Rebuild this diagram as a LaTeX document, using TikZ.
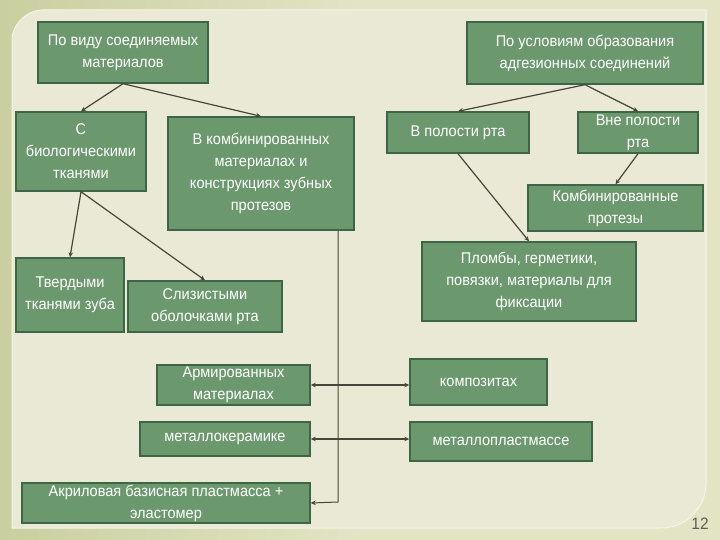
\documentclass[tikz,border=0pt]{standalone}
\usepackage{fontspec}
\setmainfont{Liberation Sans}[FakeStretch=0.94]
\usetikzlibrary{arrows.meta,calc}
\definecolor{bgout}{HTML}{E2E4C4}
\definecolor{bgleft}{HTML}{CACF9F}
\definecolor{panelc}{HTML}{E9E9D5}
\definecolor{panelrim}{HTML}{F5F5E8}
\definecolor{boxfill}{HTML}{6B996D}
\definecolor{boxline}{HTML}{3E6646}
\definecolor{linec}{HTML}{45473A}
\definecolor{numc}{HTML}{5E5F52}
\begin{document}
\begin{tikzpicture}[x=1pt,y=-1pt,
  box/.style={draw=boxline, fill=boxfill, line width=1.4pt, text=white, align=center,
    inner sep=1pt, font=\fontsize{15.5}{22}\selectfont},
  conn/.style={draw=linec, line width=1.2pt, -{Stealth[length=5pt,width=4.5pt]}},
  thinconn/.style={draw=linec, line width=1pt, -{Stealth[length=5pt,width=4.5pt]}},
  dbl/.style={draw=linec, line width=1.2pt, {Stealth[length=5pt,width=4.5pt]}-{Stealth[length=5pt,width=4.5pt]}}]
\useasboundingbox (0,0) rectangle (720,540);
\shade[left color=bgleft, right color=bgout, middle color=bgout] (0,0) rectangle (720,540);
\fill[panelc, draw=panelrim, line width=1pt] (12,528) -- (12,40) .. controls (12,23.4) and (28.6,10) .. (42,10)
  -- (706,10) -- (706,483) .. controls (706,507.9) and (685.9,528) .. (661,528) -- cycle;

% left tree
\node[box, minimum width=170pt, minimum height=61pt] (b1) at (123,52.5) {По виду соединяемых\\материалов};
\node[box, minimum width=130pt, minimum height=79pt] (b2) at (81,151.5) {С\\биологическими\\тканями};
\node[box, minimum width=186pt, minimum height=113pt] (b3) at (261,173.5) {В комбинированных\\материалах и\\конструкциях зубных\\протезов};
\node[box, minimum width=108pt, minimum height=74pt] (b9) at (70,295) {Твердыми\\тканями зуба};
\node[box, minimum width=154pt, minimum height=51pt] (b10) at (205,306.5) {Слизистыми\\оболочками рта};
\node[box, minimum width=153pt, minimum height=40pt] (b11) at (233.5,385) {Армированных\\материалах};
\node[box, minimum width=170pt, minimum height=34pt] (b12) at (225,439) {металлокерамике};
\node[box, minimum width=288pt, minimum height=40pt] (b13) at (166,503) {Акриловая базисная пластмасса +\\эластомер};

% right tree
\node[box, minimum width=236pt, minimum height=62pt] (b4) at (585,53) {По условиям образования\\адгезионных соединений};
\node[box, minimum width=142pt, minimum height=41pt] (b5) at (458,132.5) {В полости рта};
\node[box, minimum width=120pt, minimum height=41pt] (b6) at (638,132.5) {Вне полости\\рта};
\node[box, minimum width=175pt, minimum height=46pt] (b7) at (615.5,208) {Комбинированные\\протезы};
\node[box, minimum width=214pt, minimum height=79pt] (b8) at (529,281.5) {Пломбы, герметики,\\повязки, материалы для\\фиксации};
\node[box, minimum width=137pt, minimum height=46pt] (b14) at (478.5,382) {композитах};
\node[box, minimum width=182pt, minimum height=39pt] (b15) at (501,441.5) {металлопластмассе};

\node[text=numc, font=\fontsize{16.5}{16.5}\selectfont, inner sep=0pt] (pg) at (700,524) {12};

% connectors
\draw[conn] (b1.south) -- (b2.north);
\draw[conn] (b1.south) -- (b3.north);
\draw[conn] (b2.south) -- (b9.north);
\draw[conn] (b2.south) -- (b10.north);
\draw[conn] (b4.south) -- (b5.north);
\draw[conn] (b4.south) -- (b6.north);
\draw[conn] (b6.south) -- (b7.north);
\draw[conn] (b5.south) -- (b8.north);
\coordinate (vb) at (338,502);
\draw[thinconn] (b3.south -| vb) -- (vb) -- (b13.east);
\draw[dbl] (b11.east) -- (b11.east -| b14.west);
\draw[dbl] (b12.east) -- (b12.east -| b15.west);
\end{tikzpicture}
\end{document}
